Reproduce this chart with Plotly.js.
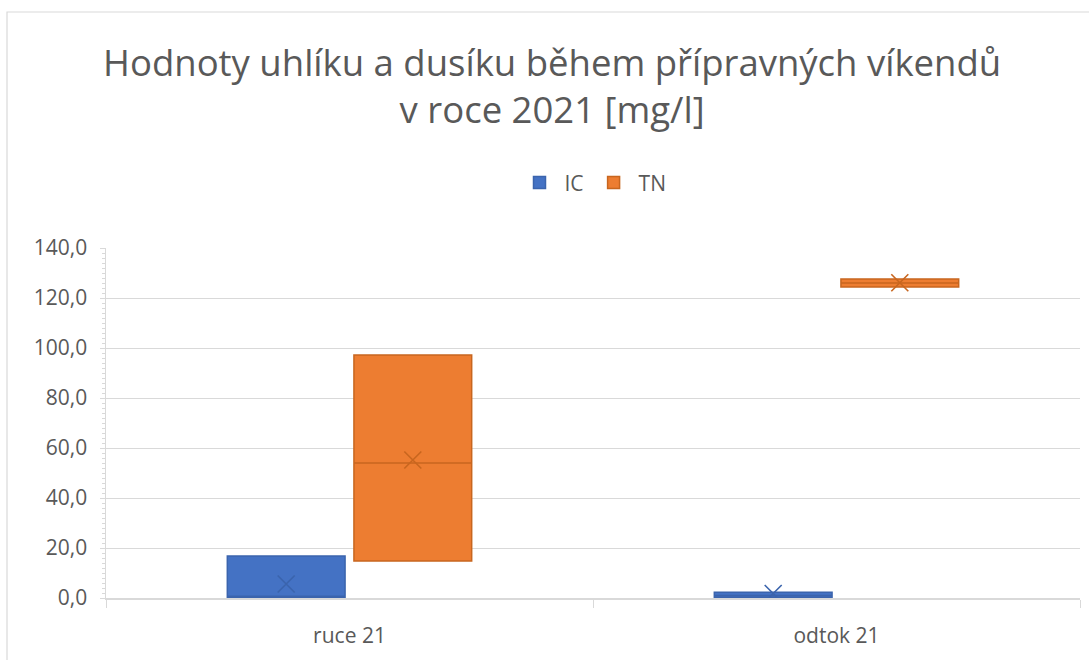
<!DOCTYPE html>
<html>
<head>
<meta charset="utf-8">
<script src="https://cdn.plot.ly/plotly-3.0.1.min.js"></script>
<style>html,body{margin:0;padding:0;background:#fff;}#chart{width:1089px;height:660px;}</style>
</head>
<body>
<div id="chart"></div>
<script>
const categories = ['ruce 21', 'odtok 21'];
const seriesNames = ['IC', 'TN'];
// box statistics per series, one value per category
const icMin    = [0.3, 0.3];
const icQ1     = [0.3, 0.3];
const icMedian = [0.5, 1.0];
const icQ3     = [16.8, 2.3];
const icMax    = [16.8, 2.3];
const icMean   = [5.6, 1.8];
const tnMin    = [14.8, 124.4];
const tnQ1     = [14.8, 124.4];
const tnMedian = [54.0, 126.0];
const tnQ3     = [97.2, 127.6];
const tnMax    = [97.2, 127.6];
const tnMean   = [55.2, 126.1];
const yTickVals = [0, 20, 40, 60, 80, 100, 120, 140];

const fills = ['#4472C4', '#ED7D31'];
const edges = ['#3B64AD', '#C8661F'];
const stats = [
  {min: icMin, q1: icQ1, med: icMedian, q3: icQ3, max: icMax, mean: icMean},
  {min: tnMin, q1: tnQ1, med: tnMedian, q3: tnQ3, max: tnMax, mean: tnMean}
];

const traces = [];
seriesNames.forEach((name, i) => {
  const s = stats[i];
  traces.push({
    type: 'box', name: name, x: categories,
    q1: s.q1, median: s.med, q3: s.q3, lowerfence: s.min, upperfence: s.max,
    fillcolor: fills[i], line: {color: edges[i], width: 1.5},
    whiskerwidth: 0, offsetgroup: name, boxpoints: false, hoverinfo: 'y'
  });
});
seriesNames.forEach((name, i) => {
  const s = stats[i];
  traces.push({
    type: 'box', name: name + ' mean', x: categories, y: s.mean,
    offsetgroup: name, showlegend: false,
    fillcolor: 'rgba(0,0,0,0)', line: {color: 'rgba(0,0,0,0)', width: 0},
    boxpoints: 'all', jitter: 0, pointpos: 0,
    marker: {symbol: 'x-thin-open', size: 17, color: edges[i], line: {color: edges[i], width: 1.6}},
    hoverinfo: 'y'
  });
});

const font = 'Open Sans, Noto Sans, sans-serif';
const layout = {
  width: 1089, height: 660,
  margin: {l: 106, r: 9, t: 248, b: 62},
  paper_bgcolor: '#fff', plot_bgcolor: '#fff',
  font: {family: font, color: '#595959', size: 21},
  separators: ',.',
  title: {
    text: 'Hodnoty uhlíku a dusíku během přípravných víkendů<br>v roce 2021 [mg/l]',
    font: {family: font, size: 36.5, color: '#595959'},
    x: 0.507, xref: 'container', xanchor: 'center',
    y: 0.885, yref: 'container', yanchor: 'top'
  },
  showlegend: true,
  legend: {
    orientation: 'h', x: 0.5, xanchor: 'center', y: 1.186, yanchor: 'middle',
    font: {family: font, size: 21, color: '#595959'}, itemwidth: 40
  },
  boxmode: 'group', boxgap: 0.48, boxgroupgap: 0.07,
  xaxis: {
    type: 'category', range: [-0.5, 1.5], tickson: 'boundaries', ticks: 'outside', ticklen: 8,
    tickcolor: '#d9d9d9', showline: true, linecolor: '#d9d9d9', linewidth: 1.5,
    ticklabelstandoff: 18,
    showgrid: false, tickfont: {family: font, size: 21, color: '#595959'}
  },
  yaxis: {
    range: [0, 140], tickvals: yTickVals, tickformat: '.1f',
    showgrid: true, gridcolor: '#d9d9d9', gridwidth: 1,
    showline: true, linecolor: '#d9d9d9', linewidth: 1.5, zeroline: false,
    ticks: 'outside', ticklen: 5, tickcolor: '#d9d9d9', ticklabelstandoff: 8,
    minor: {dtick: 2, ticks: 'outside', ticklen: 3, tickcolor: '#d9d9d9', showgrid: false},
    tickfont: {family: font, size: 21, color: '#595959'}
  },
  shapes: [{
    type: 'rect', xref: 'paper', yref: 'paper',
    x0: (7 - 106) / 974, x1: 1.2, y0: -0.5, y1: (598 - 12) / 350,
    line: {color: '#d9d9d9', width: 1.2}, fillcolor: 'rgba(0,0,0,0)', layer: 'below'
  }]
};

Plotly.newPlot('chart', traces, layout, {displayModeBar: false, staticPlot: true});
</script>
</body>
</html>
